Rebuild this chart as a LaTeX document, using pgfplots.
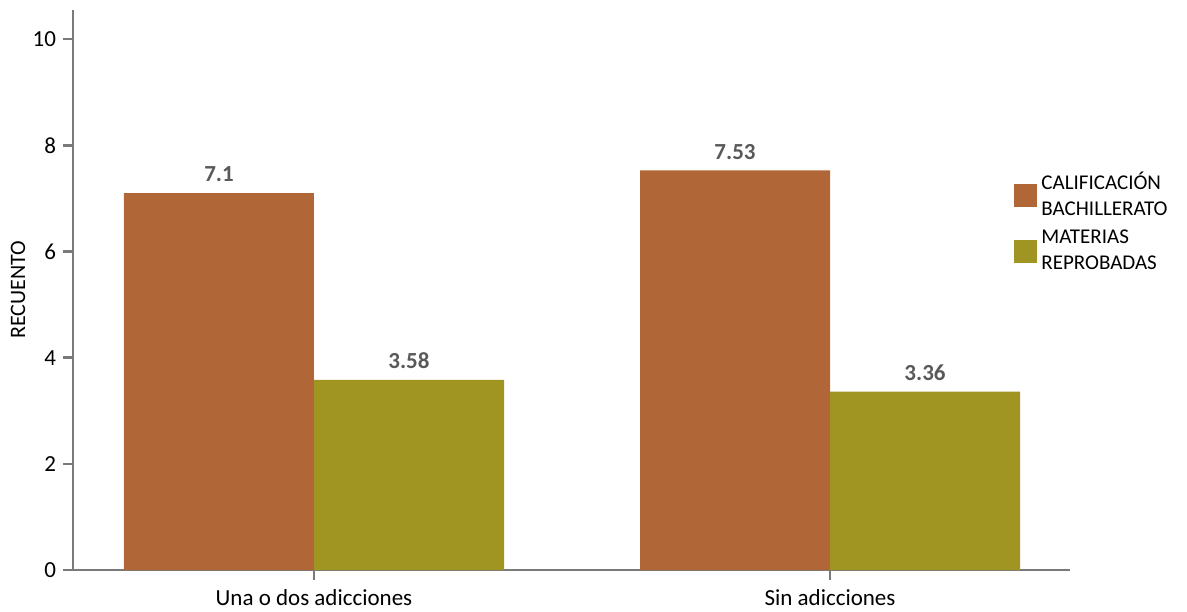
\documentclass[border=0pt]{standalone}
\usepackage{pgfplots}
\pgfplotsset{compat=1.18}
\usepackage{fontspec}
\setmainfont{Carlito}
\definecolor{barA}{HTML}{B06636}
\definecolor{barB}{HTML}{A09523}
\definecolor{axgray}{HTML}{7A7A7A}
\definecolor{lblgray}{HTML}{595959}
\begin{document}
\begin{tikzpicture}
\begin{axis}[
    at={(36.5pt,0pt)}, anchor=south west,
    scale only axis,
    width=498.5pt, height=280pt,
    ybar=0pt, bar width=95pt,
    xmin=-0.467, xmax=1.465,
    ymin=0, ymax=10.55,
    axis x line*=bottom, axis y line*=left,
    axis line style={axgray, line width=1.2pt, -},
    xtick={0,1},
    xticklabels={Una o dos adicciones, Sin adicciones},
    ytick={0,2,4,6,8,10},
    tick align=outside,
    major tick length=5pt,
    tick style={axgray, line width=1.2pt},
    ticklabel style={font=\fontsize{11.5}{13}\selectfont, text=black},
    xticklabel style={yshift=-1pt},
    /pgf/number format/assume math mode=true,
    ylabel={RECUENTO},
    ylabel style={font=\fontsize{11}{13}\selectfont, anchor=center, at={(axis description cs:-0.055,0.5)}},
    nodes near coords,
    nodes near coords style={font=\fontsize{11.5}{13}\selectfont\bfseries, text=lblgray, yshift=2pt},
    legend style={draw=none, at={(axis cs:1.345,6.55)}, anchor=west,
        font=\fontsize{10.5}{13}\selectfont, row sep=6pt,
        nodes={align=left, inner xsep=2pt, inner ysep=0pt}},
    legend cell align=left,
    legend image code/.code={\fill (0pt,-5.75pt) rectangle (11.5pt,5.75pt);},
]
\addplot[fill=barA, draw=none] coordinates {(0,7.1) (1,7.53)};
\addlegendentry{CALIFICACIÓN\\BACHILLERATO}
\addplot[fill=barB, draw=none] coordinates {(0,3.58) (1,3.36)};
\addlegendentry{MATERIAS\\REPROBADAS}
\end{axis}
\pgfresetboundingbox
\useasboundingbox (0pt,-20.5pt) rectangle (593.5pt,285pt);
\end{tikzpicture}
\end{document}
